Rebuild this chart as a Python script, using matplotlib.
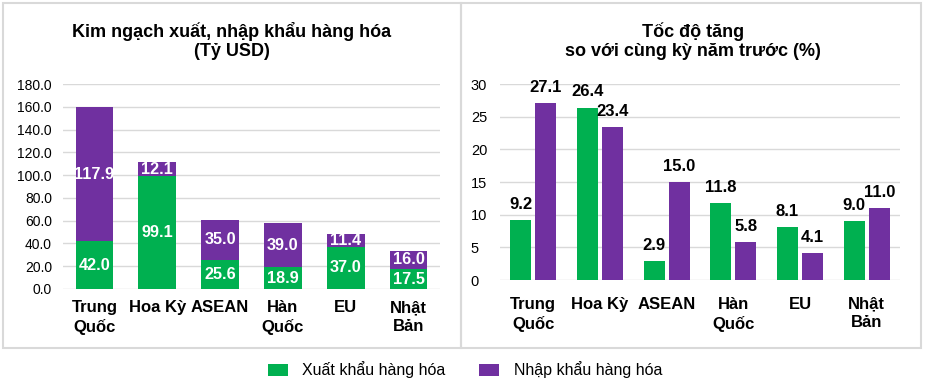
import matplotlib
matplotlib.use("Agg")
import matplotlib.pyplot as plt
from matplotlib.patches import Rectangle
import numpy as np

plt.rcParams['font.family'] = ['Liberation Sans', 'DejaVu Sans']

categories = ["Trung\nQuốc", "Hoa Kỳ", "ASEAN", "Hàn\nQuốc", "EU", "Nhật\nBản"]
export_value = [42.0, 99.1, 25.6, 18.9, 37.0, 17.5]
import_value = [117.9, 12.1, 35.0, 39.0, 11.4, 16.0]
export_growth = [9.2, 26.4, 2.9, 11.8, 8.1, 9.0]
import_growth = [27.1, 23.4, 15.0, 5.8, 4.1, 11.0]
series_names = ["Xuất khẩu hàng hóa", "Nhập khẩu hàng hóa"]
left_title = "Kim ngạch xuất, nhập khẩu hàng hóa\n(Tỷ USD)"
right_title = "Tốc độ tăng\nso với cùng kỳ năm trước (%)"

GREEN = "#00B050"
PURPLE = "#7030A0"
GRID = "#D9D9D9"

W, H = 926, 390
fig = plt.figure(figsize=(W / 100, H / 100), dpi=100)

def rect(x0, y0, x1, y1):
    # pixel coords (top-left origin) -> figure fraction
    return [x0 / W, 1 - y1 / H, (x1 - x0) / W, (y1 - y0) / H]

# panel borders
for (x0, y0, x1, y1) in [(3, 3, 461, 348), (461, 3, 921, 348)]:
    fig.add_artist(Rectangle((x0 / W, 1 - y1 / H), (x1 - x0) / W, (y1 - y0) / H,
                             transform=fig.transFigure, fill=False,
                             edgecolor=GRID, linewidth=1.5))

x = np.arange(len(categories))

# ---- left chart ----
ax1 = fig.add_axes(rect(63, 84, 440, 289))
b1 = ax1.bar(x, export_value, width=0.6, color=GREEN, zorder=3)
b2 = ax1.bar(x, import_value, width=0.6, bottom=export_value, color=PURPLE, zorder=3)
ax1.set_ylim(0, 180)
ax1.set_xlim(-0.5, len(categories) - 0.5)
ax1.set_yticks(np.arange(0, 181, 20))
ax1.set_yticklabels([f"{v:.1f}" for v in np.arange(0, 181, 20)])
ax1.tick_params(axis='y', length=0, pad=8, labelsize=10, labelcolor="#000000")
ax1.set_xticks(x)
ax1.set_xticklabels(categories, fontsize=12, fontweight='bold', linespacing=1.3)
ax1.tick_params(axis='x', length=0, pad=8)
ax1.grid(axis='y', color=GRID, linewidth=1, zorder=0)
for s in ax1.spines.values():
    s.set_visible(False)
ax1.bar_label(b1, labels=[f"{v:.1f}" for v in export_value], label_type='center',
              color='white', fontsize=11.7, fontweight='bold')
ax1.bar_label(b2, labels=[f"{v:.1f}" for v in import_value], label_type='center',
              color='white', fontsize=11.7, fontweight='bold')
fig.text(232 / W, 1 - 41 / H, left_title, ha='center', va='center',
         fontsize=13, fontweight='bold', linespacing=1.15)

# ---- right chart ----
ax2 = fig.add_axes(rect(500, 84, 900, 280))
off, bw = 0.19, 0.315
c1 = ax2.bar(x - off, export_growth, width=bw, color=GREEN, zorder=3)
c2 = ax2.bar(x + off, import_growth, width=bw, color=PURPLE, zorder=3)
ax2.set_ylim(0, 30)
ax2.set_xlim(-0.5, len(categories) - 0.5)
ax2.set_yticks(np.arange(0, 31, 5))
ax2.tick_params(axis='y', length=0, pad=21, labelsize=10.5)
for lbl in ax2.get_yticklabels():
    lbl.set_ha('left')
ax2.set_xticks(x)
ax2.set_xticklabels(categories, fontsize=12, fontweight='bold', linespacing=1.3)
ax2.tick_params(axis='x', length=0, pad=12)
ax2.grid(axis='y', color=GRID, linewidth=1, zorder=0)
for s in ax2.spines.values():
    s.set_visible(False)
ax2.bar_label(c1, labels=[f"{v:.1f}" for v in export_growth], padding=6,
              fontsize=12, fontweight='bold')
ax2.bar_label(c2, labels=[f"{v:.1f}" for v in import_growth], padding=6,
              fontsize=12, fontweight='bold')
fig.text(693 / W, 1 - 41 / H, right_title, ha='center', va='center',
         fontsize=13, fontweight='bold', linespacing=1.15)

# ---- legend ----
fig.legend([b1, b2], series_names, loc='center', bbox_to_anchor=(465 / W, 1 - 370 / H),
           ncol=2, frameon=False, fontsize=11.5, handlelength=1.25, handleheight=0.8,
           handletextpad=0.9, columnspacing=2.1)

fig.savefig("out.png", dpi=100)
